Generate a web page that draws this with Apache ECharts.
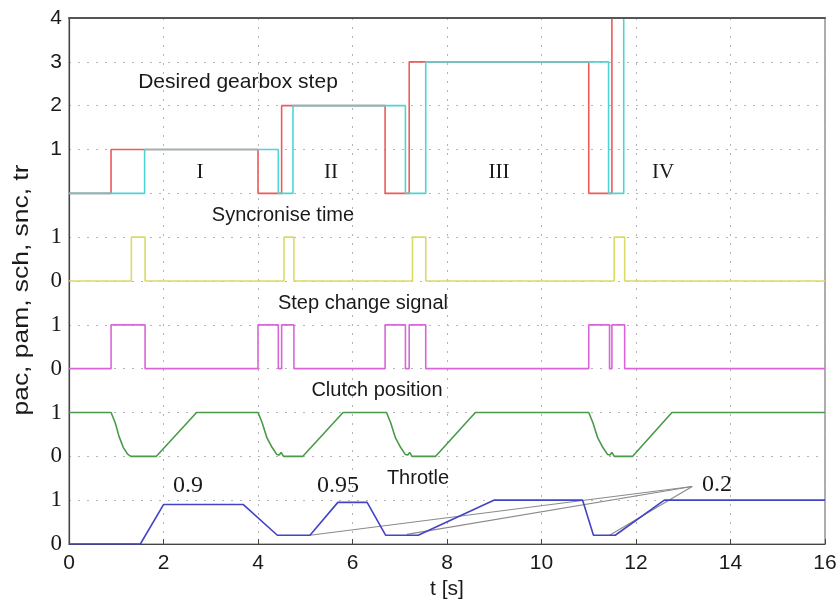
<!DOCTYPE html>
<html>
<head>
<meta charset="utf-8">
<script src="https://cdn.jsdelivr.net/npm/echarts@6/dist/echarts.min.js"></script>
<style>html,body{margin:0;padding:0;background:#fff;}#c{width:840px;height:602px;}</style>
</head>
<body>
<div id="c"></div>
<script>
// ---- data (time in s, signal levels) ----
const xTickLabels = ['0','2','4','6','8','10','12','14','16'];
const yTickLabels = ['0','1','0','1','0','1','0','1','','1','2','3','4'];

// offsets of each trace on the stacked axis
const offsets = { throttle: 0, clutch: 2, step: 4, sync: 6, gear: 8 };

const gearRedT = [0, 0.89, 4.0, 4.5, 6.69, 7.2, 11.0, 11.49, 16];
const gearRedV = [0, 1, 0, 2, 0, 3, 0, 4, 4];
const gearCyanT = [0, 1.6, 4.43, 4.74, 7.12, 7.55, 11.42, 11.74, 16];
const gearCyanV = [0, 1, 0, 2, 0, 3, 0, 4, 4];

const syncT = [0, 1.32, 1.61, 4.55, 4.76, 7.27, 7.55, 11.54, 11.76, 16];
const syncV = [0, 1, 0, 1, 0, 1, 0, 1, 0, 0];

const stepT = [0, 0.89, 1.61, 4.0, 4.43, 4.5, 4.76, 6.69, 7.12, 7.2, 7.55, 11.0, 11.44, 11.49, 11.76, 16];
const stepV = [0, 1, 0, 1, 0, 1, 0, 1, 0, 1, 0, 1, 0, 1, 0, 0];

const clutchT = [0, 0.89, 0.98, 1.06, 1.15, 1.24, 1.31, 1.85, 2.70,
  4.0, 4.09, 4.19, 4.3, 4.4, 4.45, 4.49, 4.54, 4.95, 5.8,
  6.72, 6.81, 6.91, 7.02, 7.12, 7.17, 7.21, 7.26, 7.76, 8.6,
  11.0, 11.09, 11.19, 11.3, 11.4, 11.45, 11.49, 11.54, 11.93, 12.76, 16];
const clutchV = [1, 1, 0.76, 0.45, 0.2, 0.05, 0, 0, 1,
  1, 0.76, 0.42, 0.2, 0.04, 0.03, 0.09, 0, 0, 1,
  1, 0.76, 0.42, 0.2, 0.04, 0.03, 0.09, 0, 0, 1,
  1, 0.76, 0.42, 0.2, 0.04, 0.03, 0.09, 0, 0, 1, 1];

const throttleT = [0, 1.51, 2.0, 3.69, 4.41, 5.1, 5.69, 6.31, 6.7, 7.39, 8.99, 10.87, 11.1, 11.56, 12.6, 16];
const throttleV = [0, 0, 0.9, 0.9, 0.2, 0.2, 0.95, 0.95, 0.2, 0.2, 1, 1, 0.2, 0.2, 1, 1];

// annotation pointer lines for "0.2"
const pointerApex = [13.19, 1.31];
const pointerTargets = [[5.1, 0.2], [7.15, 0.22], [11.44, 0.2]];

// ---- build ----
const SANS = "'Liberation Sans', Arial, Helvetica, sans-serif";
const SERIF = "'Liberation Serif', 'Times New Roman', serif";
function pts(T, V, off) { return T.map((t, i) => [t, V[i] + off]); }

const lineSeries = (name, data, color, step) => ({
  name, type: 'line', data, step: step ? 'end' : false,
  symbol: 'none', lineStyle: { color, width: 1.6 }, itemStyle: { color },
  animation: false, z: 3
});

const series = [
  lineSeries('gearRed', pts(gearRedT, gearRedV, offsets.gear), '#ee5a5a', true),
  lineSeries('gearCyan', pts(gearCyanT, gearCyanV, offsets.gear), '#4fd4d4', true),
  lineSeries('sync', pts(syncT, syncV, offsets.sync), '#dada66', true),
  lineSeries('step', pts(stepT, stepV, offsets.step), '#d866d8', true),
  lineSeries('clutch', pts(clutchT, clutchV, offsets.clutch), '#4a9a4a', false),
  lineSeries('throttle', pts(throttleT, throttleV, offsets.throttle), '#4343c8', false)
];
pointerTargets.forEach((p, i) => {
  series.push({
    name: 'ptr' + i, type: 'line', data: [pointerApex, p], symbol: 'none',
    lineStyle: { color: '#8a8a8a', width: 1.1 }, animation: false, z: 2, silent: true
  });
});

const texts = [
  { t: 'Desired gearbox step', x: 238, y: 82, f: SANS, s: 21 },
  { t: 'Syncronise time', x: 283, y: 215, f: SANS, s: 20 },
  { t: 'Step change signal', x: 363, y: 303, f: SANS, s: 20 },
  { t: 'Clutch position', x: 377, y: 390, f: SANS, s: 20 },
  { t: 'Throtle', x: 418, y: 478, f: SANS, s: 20 },
  { t: '0.9', x: 188, y: 486, f: SERIF, s: 24 },
  { t: '0.95', x: 338, y: 486, f: SERIF, s: 24 },
  { t: '0.2', x: 717, y: 485, f: SERIF, s: 24 },
  { t: 'I', x: 200, y: 172, f: SERIF, s: 21 },
  { t: 'II', x: 331, y: 172, f: SERIF, s: 21 },
  { t: 'III', x: 499, y: 172, f: SERIF, s: 21 },
  { t: 'IV', x: 663, y: 172, f: SERIF, s: 21 }
];
const graphic = texts.map(o => ({
  type: 'text', x: o.x, y: o.y, z: 10,
  style: { text: o.t, font: o.s + 'px ' + o.f, fill: '#1a1a1a', align: 'center', verticalAlign: 'middle' }
}));
graphic.push({
  type: 'text', x: 22, y: 290, rotation: Math.PI / 2, scaleX: 1.2, z: 10,
  style: { text: 'pac, pam, sch, snc, tr', font: '22px ' + SANS, fill: '#1a1a1a', align: 'center', verticalAlign: 'middle' }
});
graphic.push({
  type: 'text', x: 447, y: 589, z: 10,
  style: { text: 't [s]', font: '21px ' + SANS, fill: '#1a1a1a', align: 'center', verticalAlign: 'middle' }
});

const dotted = { color: '#b4b4b4', width: 1, type: [2, 7] };

const chart = echarts.init(document.getElementById('c'), null, { renderer: 'canvas' });
chart.setOption({
  backgroundColor: '#ffffff',
  animation: false,
  grid: { left: 69, right: 15, top: 18, bottom: 58, show: true, borderColor: '#777', borderWidth: 1.2, backgroundColor: 'transparent' },
  xAxis: [{
    type: 'value', min: 0, max: 16, interval: 2,
    axisLine: { show: true, lineStyle: { color: '#444', width: 1.2 } },
    axisTick: { show: true, inside: true, length: 5, lineStyle: { color: '#444' } },
    axisLabel: { margin: 9, fontSize: 21, fontFamily: SANS, color: '#1a1a1a',
      formatter: v => xTickLabels[Math.round(v / 2)] },
    splitLine: { show: true, lineStyle: dotted }
  }, {
    type: 'value', min: 0, max: 16, interval: 2, position: 'top', z: 10,
    axisLine: { show: true, lineStyle: { color: '#555', width: 2.2 } },
    axisTick: { show: false }, axisLabel: { show: false }, splitLine: { show: false }
  }],
  yAxis: {
    type: 'value', min: 0, max: 12, interval: 1,
    axisLine: { show: true, lineStyle: { color: '#444', width: 1.2 } },
    axisTick: { show: false },
    axisLabel: {
      margin: 7,
      formatter: v => {
        const i = Math.round(v);
        const s = yTickLabels[i];
        if (!s) return '';
        return i >= 9 ? '{a|' + s + '}' : '{b|' + s + '}';
      },
      rich: {
        a: { fontSize: 21, fontFamily: SANS, color: '#1a1a1a' },
        b: { fontSize: 23, fontFamily: SERIF, color: '#1a1a1a' }
      }
    },
    splitLine: { show: true, lineStyle: dotted }
  },
  series,
  graphic
});
</script>
</body>
</html>
